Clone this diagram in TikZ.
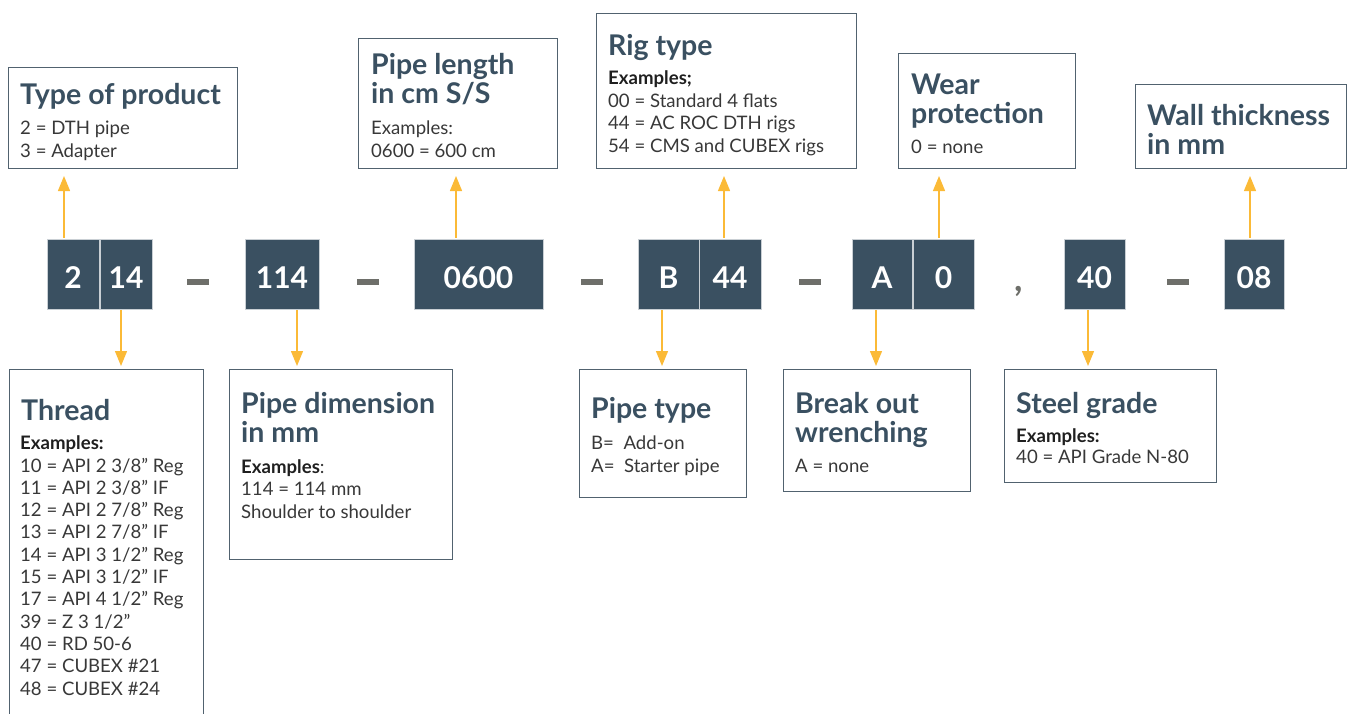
\documentclass[tikz,border=0pt]{standalone}
\usepackage{fontspec}
\setmainfont{Lato}
\usetikzlibrary{arrows.meta,positioning}

\definecolor{slate}{HTML}{3A5061}
\definecolor{frame}{HTML}{51626F}
\definecolor{blockedge}{HTML}{C9CFD4}
\definecolor{amber}{HTML}{FBBA37}
\definecolor{ink}{HTML}{383838}
\definecolor{exink}{HTML}{1F1F1F}
\definecolor{dashgray}{HTML}{6E6F6A}

\newcommand{\ttlfont}{\fontsize{28.5}{29}\selectfont\bfseries}
\newcommand{\bodfont}{\fontsize{18.6}{22.4}\selectfont}
\newcommand{\ex}[1]{\textbf{\color{exink}#1}}

% multi-line nodes sit on the baseline of their last line
\tikzset{
  infobox/.style={draw=frame, line width=1pt, anchor=north west, inner sep=0pt},
  blk/.style={fill=slate, draw=blockedge, line width=0.8pt, minimum height=70,
    text=white, font=\fontsize{30}{30}\selectfont\bfseries, inner sep=0pt,
    text height=28pt, text depth=0pt},
  ttlnode/.style={anchor=base west, inner sep=0pt, align=left, text=slate, font=\ttlfont},
  bodnode/.style={anchor=base west, inner sep=0pt, align=left, text=ink, font=\bodfont},
  pointer/.style={draw=amber, line width=1.3pt, -{Triangle[width=12pt,length=15pt]},
    shorten <=1pt},
}

\begin{document}
\begin{tikzpicture}[x=1pt,y=-1pt]
\useasboundingbox (0,0) rectangle (1348,713);
\clip (0,0) rectangle (1348,713);

% code blocks
\node[blk, minimum width=52] (prod)  at (73,274)     {2};
\node[blk, minimum width=52] (thrd)  at (126,274)    {14};
\node[blk, minimum width=74] (dia)   at (282,274)    {114};
\node[blk, minimum width=129] (len)  at (478.5,274)  {0600};
\node[blk, minimum width=61] (ptype) at (668.5,274)  {B};
\node[blk, minimum width=62] (rig)   at (730,274)    {44};
\node[blk, minimum width=60] (brk)   at (882,274)    {A};
\node[blk, minimum width=61] (wear)  at (943.5,274)  {0};
\node[blk, minimum width=61] (grade) at (1094.5,274) {40};
\node[blk, minimum width=60] (wall)  at (1254,274)   {08};

% separators
\fill[dashgray] (187,279) rectangle (209,285);
\fill[dashgray] (357,279) rectangle (379,285);
\fill[dashgray] (581,279) rectangle (603,285);
\fill[dashgray] (799,279) rectangle (821,285);
\fill[dashgray] (1167,279) rectangle (1189,285);
\node[inner sep=0pt, text=dashgray, font=\fontsize{36}{36}\selectfont\bfseries] (comma) at (1019,291) {,};

% boxes above
\node[infobox, minimum width=229, minimum height=101] (prodbox) at (8,67) {};
\node[infobox, minimum width=199, minimum height=130] (lenbox)  at (358,38) {};
\node[infobox, minimum width=260, minimum height=155] (rigbox)  at (596,13) {};
\node[infobox, minimum width=177, minimum height=115] (wearbox) at (898,53) {};
\node[infobox, minimum width=211, minimum height=84]  (wallbox) at (1135,84) {};

% boxes below
\node[infobox, minimum width=194, minimum height=350] (thrdbox)  at (9,369) {};
\node[infobox, minimum width=223, minimum height=190] (diabox)   at (229,369) {};
\node[infobox, minimum width=167, minimum height=128] (ptypebox) at (579,369) {};
\node[infobox, minimum width=187, minimum height=122] (brkbox)   at (783,369) {};
\node[infobox, minimum width=212, minimum height=113] (gradebox) at (1004,369) {};

% texts
\node[ttlnode] (prodttl) at (20,104) {Type of product};
\node[bodnode] (prodtxt) at (20,157) {2 = DTH pipe\\3 = Adapter};

\node[ttlnode] (lenttl) at (371,103) {Pipe length\\in cm S/S};
\node[bodnode] (lentxt) at (371,157) {Examples:\\0600 = 600 cm};

\node[ttlnode] (rigttl) at (608,55) {Rig type};
\node[bodnode] (rigtxt) at (608,152) {\ex{Examples;}\\00 = Standard 4 flats\\44 = AC ROC DTH rigs\\54 = CMS and CUBEX rigs};

\node[ttlnode] (wearttl) at (911,123) {Wear\\protection};
\node[bodnode] (weartxt) at (911,153) {0 = none};

\node[ttlnode] (wallttl) at (1147,154) {Wall thickness\\in mm};

\node[ttlnode] (thrdttl) at (21,420) {Thread};
\node[bodnode, font=\fontsize{18.6}{22.3}\selectfont] (thrdtxt) at (20,695) {\ex{Examples:}\\
  10 = API 2 3/8" Reg\\11 = API 2 3/8" IF\\12 = API 2 7/8" Reg\\13 = API 2 7/8" IF\\
  14 = API 3 1/2" Reg\\15 = API 3 1/2" IF\\17 = API 4 1/2" Reg\\39 = Z 3 1/2"\\
  40 = RD 50-6\\47 = CUBEX \#21\\48 = CUBEX \#24};

\node[ttlnode] (diattl) at (241,442) {Pipe dimension\\in mm};
\node[bodnode] (diatxt) at (241,518) {\ex{Examples}:\\114 = 114 mm\\Shoulder to shoulder};

\node[ttlnode] (ptypettl) at (591,418) {Pipe type};
\node[bodnode] (ptypetxt) at (591,472) {B=\ \ Add-on\\A=\ \ Starter pipe};

\node[ttlnode] (brkttl) at (795,442) {Break out\\wrenching};
\node[bodnode] (brktxt) at (795,472) {A = none};

\node[ttlnode] (gradettl) at (1016,413) {Steel grade};
\node[bodnode, font=\fontsize{18.6}{21}\selectfont] (gradetxt) at (1016,463) {\ex{Examples:}\\40 = API Grade N-80};

% arrows up
\draw[pointer, shorten >=7pt] ([xshift=-9pt]prod.north) -- ([xshift=-9pt]prod.north |- prodbox.south);
\draw[pointer, shorten >=7pt] ([xshift=-22.5pt]len.north) -- ([xshift=-22.5pt]len.north |- lenbox.south);
\draw[pointer, shorten >=7pt] ([xshift=-6pt]rig.north) -- ([xshift=-6pt]rig.north |- rigbox.south);
\draw[pointer, shorten >=7pt] ([xshift=-4.5pt]wear.north) -- ([xshift=-4.5pt]wear.north |- wearbox.south);
\draw[pointer, shorten >=7pt] ([xshift=-4pt]wall.north) -- ([xshift=-4pt]wall.north |- wallbox.south);

% arrows down
\draw[pointer, shorten >=3pt] ([xshift=-5pt]thrd.south) -- ([xshift=-5pt]thrd.south |- thrdbox.north);
\draw[pointer, shorten >=3pt] ([xshift=15pt]dia.south) -- ([xshift=15pt]dia.south |- diabox.north);
\draw[pointer, shorten >=3pt] ([xshift=-6.5pt]ptype.south) -- ([xshift=-6.5pt]ptype.south |- ptypebox.north);
\draw[pointer, shorten >=3pt] ([xshift=-6pt]brk.south) -- ([xshift=-6pt]brk.south |- brkbox.north);
\draw[pointer, shorten >=3pt] ([xshift=-6.5pt]grade.south) -- ([xshift=-6.5pt]grade.south |- gradebox.north);
\end{tikzpicture}
\end{document}
